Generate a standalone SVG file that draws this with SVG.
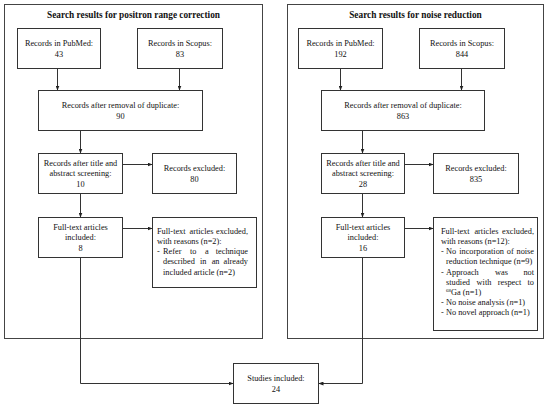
<svg xmlns="http://www.w3.org/2000/svg" width="550" height="408" viewBox="0 0 550 408">
<style>
.bg{fill:#ffffff}
.panel{fill:none;stroke:#444;stroke-width:1}
.box{fill:#ffffff;stroke:#333;stroke-width:1}
.t{font-family:"Liberation Serif","Times New Roman",serif;font-size:8.3px;fill:#111}
.c{text-anchor:middle}
.e{text-anchor:end}
.h{font-family:"Liberation Serif","Times New Roman",serif;font-size:9.3px;font-weight:bold;fill:#111;text-anchor:middle}
.sup{font-size:5px}
.ln{fill:none;stroke:#333;stroke-width:1}
</style>
<defs>
<marker id="ah" markerWidth="5" markerHeight="4" refX="5" refY="2" orient="auto" markerUnits="userSpaceOnUse">
<path d="M0,0 L5,2 L0,4 z" fill="#222"/>
</marker>
</defs>
<rect class="bg" x="0" y="0" width="550" height="408"/>

<g id="panel-left">
<rect class="panel" x="4.5" y="4.5" width="258" height="334"/>
<text class="h" x="133.5" y="18">Search results for positron range correction</text>
</g>
<g id="panel-right">
<rect class="panel" x="287.5" y="4.5" width="256" height="334"/>
<text class="h" x="415.5" y="18">Search results for noise reduction</text>
</g>

<g id="connectors">
<path class="ln" d="M57.5,68.5 V90.5" marker-end="url(#ah)"/>
<path class="ln" d="M179.5,68.5 V90.5" marker-end="url(#ah)"/>
<path class="ln" d="M80.5,130.5 V153.5" marker-end="url(#ah)"/>
<path class="ln" d="M80.5,193.5 V217.5" marker-end="url(#ah)"/>
<path class="ln" d="M122.5,164.5 H152.5" marker-end="url(#ah)"/>
<path class="ln" d="M122.5,228.5 H152.5" marker-end="url(#ah)"/>
<path class="ln" d="M80.5,257.5 V383.5 H233.5" marker-end="url(#ah)"/>
<path class="ln" d="M340.5,68.5 V90.5" marker-end="url(#ah)"/>
<path class="ln" d="M461.5,68.5 V90.5" marker-end="url(#ah)"/>
<path class="ln" d="M362.5,130.5 V153.5" marker-end="url(#ah)"/>
<path class="ln" d="M362.5,193.5 V217.5" marker-end="url(#ah)"/>
<path class="ln" d="M404.5,164.5 H433.5" marker-end="url(#ah)"/>
<path class="ln" d="M404.5,228.5 H433.5" marker-end="url(#ah)"/>
<path class="ln" d="M362.5,257.5 V383.5 H318.5" marker-end="url(#ah)"/>
</g>

<g id="l-pubmed">
<rect class="box" x="17.5" y="28.5" width="83" height="40"/>
<text class="t c" x="59" y="45.5">Records in PubMed:</text>
<text class="t c" x="59" y="56.5">43</text>
</g>
<g id="l-scopus">
<rect class="box" x="137.5" y="28.5" width="85" height="40"/>
<text class="t c" x="180" y="45.5">Records in Scopus:</text>
<text class="t c" x="180" y="56.5">83</text>
</g>
<g id="l-dup">
<rect class="box" x="38.5" y="90.5" width="164" height="40"/>
<text class="t c" x="120.5" y="107.5">Records after removal of duplicate:</text>
<text class="t c" x="120.5" y="118.5">90</text>
</g>
<g id="l-screen">
<rect class="box" x="38.5" y="153.5" width="84" height="40"/>
<text class="t c" x="80.5" y="165.5">Records after title and</text>
<text class="t c" x="80.5" y="176">abstract screening:</text>
<text class="t c" x="80.5" y="186.5">10</text>
</g>
<g id="l-excl">
<rect class="box" x="152.5" y="153.5" width="84" height="40"/>
<text class="t c" x="194.5" y="170.5">Records excluded:</text>
<text class="t c" x="194.5" y="181.5">80</text>
</g>
<g id="l-full">
<rect class="box" x="38.5" y="217.5" width="84" height="40"/>
<text class="t c" x="80.5" y="229.5">Full-text articles</text>
<text class="t c" x="80.5" y="240">included:</text>
<text class="t c" x="80.5" y="250.5">8</text>
</g>
<g id="l-reasons">
<rect class="box" x="152.5" y="217.5" width="104" height="70"/>
<text class="t" x="157" y="233.8">Full-text</text>
<text class="t c" x="201.5" y="233.8">articles</text>
<text class="t e" x="248" y="233.8">excluded,</text>
<text class="t" x="157" y="244">with reasons (n=2):</text>
<text class="t" x="157" y="254.2">-</text>
<text class="t" x="163" y="254.2">Refer</text>
<text class="t c" x="193.2" y="254.2">to</text>
<text class="t c" x="206.8" y="254.2">a</text>
<text class="t e" x="248" y="254.2">technique</text>
<text class="t" x="163" y="264.4">described</text>
<text class="t c" x="203.2" y="264.4">in</text>
<text class="t c" x="215.6" y="264.4">an</text>
<text class="t e" x="248" y="264.4">already</text>
<text class="t" x="163" y="274.6">included article (n=2)</text>
</g>

<g id="r-pubmed">
<rect class="box" x="298.5" y="28.5" width="84" height="40"/>
<text class="t c" x="340.5" y="45.5">Records in PubMed:</text>
<text class="t c" x="340.5" y="56.5">192</text>
</g>
<g id="r-scopus">
<rect class="box" x="419.5" y="28.5" width="85" height="40"/>
<text class="t c" x="462" y="45.5">Records in Scopus:</text>
<text class="t c" x="462" y="56.5">844</text>
</g>
<g id="r-dup">
<rect class="box" x="321.5" y="90.5" width="163" height="40"/>
<text class="t c" x="403" y="107.5">Records after removal of duplicate:</text>
<text class="t c" x="403" y="118.5">863</text>
</g>
<g id="r-screen">
<rect class="box" x="321.5" y="153.5" width="83" height="40"/>
<text class="t c" x="363" y="165.5">Records after title and</text>
<text class="t c" x="363" y="176">abstract screening:</text>
<text class="t c" x="363" y="186.5">28</text>
</g>
<g id="r-excl">
<rect class="box" x="433.5" y="153.5" width="85" height="40"/>
<text class="t c" x="476" y="170.5">Records excluded:</text>
<text class="t c" x="476" y="181.5">835</text>
</g>
<g id="r-full">
<rect class="box" x="321.5" y="217.5" width="83" height="40"/>
<text class="t c" x="363" y="229.5">Full-text articles</text>
<text class="t c" x="363" y="240">included:</text>
<text class="t c" x="363" y="250.5">16</text>
</g>
<g id="r-reasons">
<rect class="box" x="433.5" y="217.5" width="104" height="113"/>
<text class="t" x="441" y="233.8">Full-text</text>
<text class="t c" x="486.4" y="233.8">articles</text>
<text class="t e" x="534" y="233.8">excluded,</text>
<text class="t" x="441" y="244">with reasons (n=12):</text>
<text class="t" x="441" y="254.2">-</text>
<text class="t" x="446" y="254.2">No</text>
<text class="t c" x="481.6" y="254.2">incorporation</text>
<text class="t c" x="510.2" y="254.2">of</text>
<text class="t e" x="534" y="254.2">noise</text>
<text class="t" x="446" y="264.4">reduction technique (n=9)</text>
<text class="t" x="441" y="274.6">-</text>
<text class="t" x="446" y="274.6">Approach</text>
<text class="t c" x="501.5" y="274.6">was</text>
<text class="t e" x="534" y="274.6">not</text>
<text class="t" x="446" y="284.8">studied</text>
<text class="t c" x="484" y="284.8">with</text>
<text class="t c" x="509.5" y="284.8">respect</text>
<text class="t e" x="534" y="284.8">to</text>
<text class="t" x="446" y="295"><tspan class="sup" dy="-3">68</tspan><tspan dy="3">Ga (n=1)</tspan></text>
<text class="t" x="441" y="305.2">-</text>
<text class="t" x="446" y="305.2">No noise analysis (<tspan font-style="italic">n</tspan>=1)</text>
<text class="t" x="441" y="315.4">-</text>
<text class="t" x="446" y="315.4">No novel approach (n=1)</text>
</g>

<g id="studies">
<rect class="box" x="233.5" y="363.5" width="85" height="40"/>
<text class="t c" x="276" y="380.5">Studies included:</text>
<text class="t c" x="276" y="391.5">24</text>
</g>
</svg>
